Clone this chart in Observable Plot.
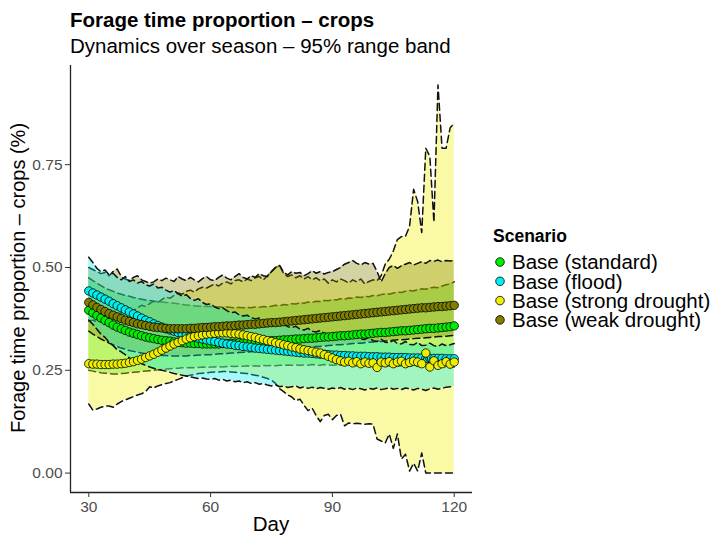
<!DOCTYPE html>
<html><head><meta charset="utf-8">
<script src="https://cdn.jsdelivr.net/npm/d3@7"></script>
<script src="https://cdn.jsdelivr.net/npm/@observablehq/plot@0.6"></script>
<style>body{margin:0;background:#fff}svg{font-family:"Liberation Sans",Arial,sans-serif}</style>
</head><body><div id="chart"></div>
<script>
const scenarios = ["Base (standard)", "Base (flood)", "Base (strong drought)", "Base (weak drought)"];
const colors = ["#00EE00", "#00EEEE", "#EEEE00", "#808000"];
const firstDay = 30, lastDay = 120;
const xTicks = [30, 60, 90, 120];
const yTicks = [0, 0.25, 0.5, 0.75];

const meanStandard = [0.396,0.39,0.383,0.377,0.371,0.366,0.36,0.355,0.351,0.347,0.343,0.34,0.337,0.334,0.331,0.329,0.327,0.325,0.323,0.322,0.321,0.319,0.318,0.317,0.316,0.316,0.315,0.315,0.314,0.314,0.314,0.314,0.314,0.315,0.315,0.316,0.316,0.317,0.317,0.318,0.318,0.319,0.32,0.32,0.321,0.322,0.322,0.323,0.324,0.324,0.325,0.326,0.326,0.327,0.328,0.328,0.329,0.33,0.331,0.331,0.332,0.333,0.334,0.334,0.335,0.336,0.337,0.338,0.338,0.339,0.34,0.341,0.342,0.342,0.343,0.344,0.345,0.346,0.346,0.347,0.348,0.349,0.35,0.351,0.352,0.352,0.353,0.354,0.355,0.356,0.358];
const meanFlood = [0.443,0.438,0.433,0.428,0.423,0.418,0.412,0.407,0.402,0.397,0.392,0.387,0.382,0.377,0.372,0.368,0.363,0.359,0.355,0.351,0.348,0.345,0.342,0.339,0.336,0.333,0.331,0.328,0.326,0.324,0.322,0.32,0.318,0.316,0.314,0.313,0.311,0.31,0.308,0.307,0.306,0.304,0.303,0.302,0.301,0.3,0.299,0.298,0.297,0.296,0.295,0.294,0.293,0.292,0.292,0.291,0.29,0.289,0.289,0.288,0.287,0.287,0.286,0.286,0.285,0.285,0.284,0.284,0.284,0.283,0.283,0.283,0.282,0.282,0.282,0.281,0.281,0.281,0.281,0.28,0.28,0.28,0.28,0.279,0.279,0.279,0.279,0.279,0.278,0.278,0.278];
const meanStrong = [0.266,0.265,0.265,0.264,0.264,0.264,0.265,0.265,0.266,0.267,0.269,0.271,0.274,0.277,0.281,0.285,0.289,0.294,0.299,0.304,0.309,0.314,0.318,0.322,0.326,0.329,0.332,0.334,0.336,0.338,0.339,0.34,0.341,0.341,0.341,0.34,0.339,0.338,0.336,0.334,0.332,0.33,0.327,0.325,0.322,0.32,0.317,0.315,0.312,0.31,0.307,0.305,0.302,0.3,0.298,0.296,0.294,0.292,0.288,0.284,0.28,0.276,0.273,0.27,0.272,0.268,0.271,0.266,0.27,0.267,0.268,0.257,0.27,0.268,0.271,0.266,0.27,0.272,0.266,0.269,0.272,0.27,0.266,0.292,0.258,0.273,0.262,0.266,0.271,0.265,0.27];
const meanWeak = [0.415,0.409,0.403,0.398,0.393,0.388,0.384,0.38,0.376,0.372,0.369,0.366,0.363,0.361,0.359,0.357,0.355,0.354,0.353,0.352,0.351,0.351,0.351,0.351,0.351,0.352,0.352,0.353,0.354,0.354,0.355,0.356,0.356,0.357,0.358,0.358,0.359,0.36,0.36,0.361,0.362,0.362,0.363,0.364,0.365,0.366,0.366,0.367,0.368,0.369,0.37,0.371,0.372,0.373,0.374,0.375,0.376,0.377,0.378,0.379,0.38,0.381,0.382,0.383,0.384,0.385,0.386,0.387,0.388,0.389,0.39,0.391,0.392,0.393,0.394,0.395,0.396,0.397,0.398,0.399,0.4,0.401,0.402,0.402,0.403,0.404,0.405,0.405,0.406,0.407,0.408];

const lowStandard = [0.25,0.248,0.246,0.244,0.243,0.242,0.241,0.241,0.242,0.243,0.244,0.245,0.246,0.247,0.248,0.249,0.25,0.251,0.252,0.253,0.254,0.255,0.255,0.256,0.256,0.257,0.256,0.257,0.258,0.257,0.258,0.258,0.259,0.258,0.259,0.26,0.259,0.26,0.26,0.261,0.26,0.261,0.26,0.262,0.261,0.262,0.261,0.262,0.262,0.263,0.262,0.263,0.262,0.263,0.262,0.264,0.263,0.262,0.264,0.263,0.262,0.263,0.262,0.264,0.263,0.262,0.261,0.263,0.262,0.261,0.262,0.261,0.262,0.26,0.261,0.262,0.26,0.261,0.259,0.26,0.261,0.259,0.26,0.258,0.259,0.26,0.258,0.259,0.258,0.257,0.258];
const highStandard = [0.475,0.468,0.462,0.456,0.45,0.446,0.442,0.438,0.435,0.432,0.43,0.427,0.425,0.423,0.421,0.42,0.418,0.417,0.416,0.415,0.414,0.413,0.412,0.41,0.409,0.408,0.407,0.406,0.406,0.405,0.405,0.404,0.404,0.403,0.404,0.403,0.402,0.403,0.402,0.403,0.402,0.404,0.403,0.405,0.404,0.406,0.408,0.407,0.41,0.409,0.412,0.411,0.414,0.413,0.416,0.415,0.418,0.417,0.42,0.419,0.422,0.421,0.424,0.423,0.426,0.425,0.428,0.427,0.43,0.429,0.432,0.431,0.434,0.436,0.435,0.438,0.44,0.439,0.442,0.444,0.443,0.446,0.448,0.447,0.45,0.452,0.451,0.455,0.458,0.46,0.465];
const lowFlood = [0.372,0.362,0.35,0.338,0.33,0.318,0.31,0.3,0.295,0.288,0.28,0.276,0.27,0.266,0.262,0.258,0.255,0.252,0.25,0.248,0.245,0.242,0.24,0.238,0.236,0.234,0.232,0.23,0.231,0.229,0.228,0.23,0.226,0.228,0.224,0.226,0.222,0.224,0.22,0.222,0.218,0.22,0.216,0.218,0.214,0.212,0.215,0.21,0.212,0.208,0.21,0.212,0.207,0.21,0.206,0.209,0.205,0.208,0.206,0.204,0.207,0.205,0.208,0.204,0.206,0.203,0.207,0.205,0.202,0.206,0.204,0.207,0.203,0.205,0.208,0.204,0.206,0.203,0.207,0.205,0.202,0.206,0.204,0.201,0.205,0.207,0.204,0.206,0.209,0.21,0.21];
const highFlood = [0.525,0.512,0.498,0.49,0.494,0.482,0.486,0.476,0.47,0.478,0.466,0.47,0.462,0.466,0.458,0.455,0.46,0.45,0.452,0.445,0.44,0.444,0.436,0.43,0.434,0.425,0.42,0.424,0.415,0.41,0.412,0.404,0.4,0.402,0.395,0.39,0.392,0.385,0.382,0.384,0.378,0.375,0.377,0.37,0.368,0.37,0.363,0.36,0.362,0.356,0.354,0.357,0.35,0.348,0.352,0.345,0.343,0.347,0.34,0.338,0.342,0.335,0.333,0.338,0.33,0.328,0.333,0.326,0.325,0.33,0.322,0.32,0.326,0.318,0.317,0.323,0.315,0.314,0.32,0.313,0.312,0.318,0.31,0.311,0.316,0.31,0.308,0.314,0.31,0.312,0.315];
const lowStrong = [0.168,0.153,0.156,0.16,0.163,0.163,0.16,0.168,0.174,0.178,0.182,0.186,0.19,0.193,0.198,0.21,0.207,0.212,0.215,0.218,0.22,0.224,0.228,0.232,0.236,0.238,0.24,0.242,0.243,0.244,0.245,0.246,0.246,0.247,0.247,0.246,0.245,0.244,0.243,0.242,0.24,0.238,0.236,0.233,0.23,0.226,0.218,0.205,0.198,0.19,0.185,0.176,0.18,0.165,0.152,0.158,0.14,0.125,0.14,0.143,0.13,0.14,0.143,0.115,0.122,0.12,0.121,0.12,0.119,0.12,0.119,0.083,0.078,0.073,0.095,0.06,0.095,0.034,0.046,0.005,0.024,0.005,0.049,0,0,0,0,0,0,0,0];
const highStrong = [0.37,0.372,0.368,0.375,0.378,0.38,0.385,0.383,0.39,0.394,0.398,0.395,0.402,0.408,0.405,0.412,0.418,0.415,0.422,0.428,0.425,0.432,0.438,0.435,0.442,0.445,0.44,0.448,0.452,0.45,0.455,0.46,0.455,0.462,0.465,0.46,0.468,0.47,0.465,0.472,0.468,0.475,0.478,0.47,0.48,0.49,0.5,0.505,0.485,0.478,0.482,0.475,0.48,0.472,0.478,0.47,0.475,0.468,0.472,0.462,0.47,0.465,0.472,0.468,0.462,0.47,0.465,0.472,0.46,0.466,0.47,0.468,0.48,0.508,0.52,0.54,0.568,0.575,0.576,0.6,0.69,0.66,0.585,0.79,0.77,0.61,0.944,0.79,0.79,0.84,0.85];
const lowWeak = [0.345,0.338,0.332,0.326,0.321,0.316,0.312,0.308,0.304,0.301,0.298,0.296,0.294,0.292,0.29,0.289,0.288,0.287,0.286,0.286,0.285,0.285,0.285,0.285,0.285,0.286,0.286,0.287,0.287,0.288,0.288,0.289,0.29,0.29,0.291,0.292,0.292,0.293,0.294,0.294,0.295,0.296,0.297,0.297,0.298,0.299,0.3,0.3,0.301,0.302,0.303,0.304,0.304,0.305,0.306,0.307,0.308,0.308,0.309,0.31,0.311,0.312,0.312,0.313,0.314,0.315,0.316,0.316,0.317,0.318,0.319,0.32,0.32,0.321,0.322,0.323,0.324,0.324,0.325,0.326,0.327,0.328,0.328,0.329,0.33,0.331,0.332,0.332,0.333,0.334,0.335];
const highWeak = [0.5,0.495,0.49,0.485,0.488,0.48,0.49,0.496,0.478,0.472,0.468,0.476,0.48,0.47,0.466,0.462,0.465,0.472,0.468,0.474,0.47,0.466,0.478,0.472,0.468,0.476,0.47,0.465,0.473,0.478,0.47,0.468,0.476,0.482,0.474,0.47,0.478,0.485,0.476,0.472,0.48,0.476,0.485,0.48,0.478,0.49,0.5,0.505,0.488,0.482,0.49,0.486,0.488,0.48,0.485,0.492,0.486,0.49,0.484,0.488,0.49,0.495,0.5,0.508,0.512,0.517,0.51,0.506,0.512,0.508,0.51,0.49,0.465,0.485,0.5,0.505,0.498,0.504,0.508,0.512,0.506,0.51,0.514,0.51,0.517,0.515,0.518,0.514,0.517,0.516,0.517];

const means = [meanStandard, meanFlood, meanStrong, meanWeak];
const lows = [lowStandard, lowFlood, lowStrong, lowWeak];
const highs = [highStandard, highFlood, highStrong, highWeak];
const days = d3.range(firstDay, lastDay + 1);

const series = scenarios.map((s, k) => days.map((d, i) => ({day: d, scenario: s, mean: means[k][i], lo: lows[k][i], hi: highs[k][i]})));

const W = 719, H = 535;
const xDom = [25.5, 124.5], yDom = [-0.0472, 0.9912];
const bandOrder = [0, 2, 3, 1];
const marks = [];
bandOrder.forEach(k => {
  const rows = series[k];
  marks.push(Plot.areaY(rows, {x: "day", y1: "lo", y2: "hi", fill: colors[k], fillOpacity: 0.35}));
  marks.push(Plot.lineY(rows, {x: "day", y: "hi", stroke: "#111", strokeWidth: 1.5, strokeDasharray: "7,4"}));
  marks.push(Plot.lineY(rows, {x: "day", y: "lo", stroke: "#111", strokeWidth: 1.5, strokeDasharray: "7,4"}));
});
series.forEach((rows, k) => {
  marks.push(Plot.lineY(rows, {x: "day", y: "mean", stroke: "#000", strokeWidth: 1}));
  marks.push(Plot.dot(rows, {x: "day", y: "mean", r: 4.2, fill: colors[k], stroke: "#000", strokeWidth: 0.8}));
});
marks.push(Plot.ruleX([xDom[0]], {stroke: "#222", strokeWidth: 1.3}));
marks.push(Plot.ruleY([yDom[0]], {stroke: "#222", strokeWidth: 1.3}));
marks.push(Plot.axisX({ticks: xTicks, tickSize: 5, tickPadding: 3, fontSize: 15.5, stroke: "#333", fill: "#4d4d4d", label: null}));
marks.push(Plot.axisY({ticks: yTicks, tickSize: 5, tickPadding: 3, fontSize: 15.5, stroke: "#333", fill: "#4d4d4d", tickFormat: d3.format(".2f"), label: null}));

const svg = Plot.plot({
  width: W, height: H,
  marginLeft: 70, marginRight: W - 472, marginTop: 65, marginBottom: H - 492,
  x: {domain: xDom}, y: {domain: yDom},
  style: {fontFamily: '"Liberation Sans", Arial, sans-serif', background: "#fff"},
  marks
});
document.getElementById("chart").append(svg);

const g = d3.select(svg).append("g").attr("font-family", '"Liberation Sans", Arial, sans-serif').attr("text-anchor", "start");
g.append("text").attr("x", 70).attr("y", 27).attr("font-size", 20.5).attr("font-weight", "bold").attr("fill", "#000").text("Forage time proportion – crops");
g.append("text").attr("x", 70).attr("y", 53).attr("font-size", 20.5).attr("fill", "#000").text("Dynamics over season – 95% range band");
g.append("text").attr("x", 271).attr("y", 531).attr("font-size", 20.5).attr("text-anchor", "middle").attr("fill", "#000").text("Day");
g.append("text").attr("transform", "translate(25,278) rotate(-90)").attr("font-size", 20).attr("text-anchor", "middle").attr("fill", "#000").text("Forage time proportion – crops (%)");
g.append("text").attr("x", 493).attr("y", 242).attr("font-size", 17.5).attr("font-weight", "bold").attr("fill", "#000").text("Scenario");
scenarios.forEach((s, k) => {
  const cy = 262 + k * 19.3;
  g.append("circle").attr("cx", 500).attr("cy", cy).attr("r", 4.3).attr("fill", colors[k]).attr("stroke", "#000").attr("stroke-width", 0.8);
  g.append("text").attr("x", 512).attr("y", cy + 7.3).attr("font-size", 20.5).attr("fill", "#000").text(s);
});
</script></body></html>
